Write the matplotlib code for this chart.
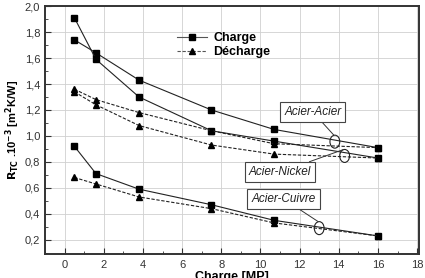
import matplotlib
matplotlib.use("Agg")
import matplotlib.pyplot as plt
from matplotlib.patches import Ellipse
from matplotlib.ticker import MultipleLocator, FuncFormatter
from matplotlib.lines import Line2D

plt.rcParams['font.family'] = ['Liberation Sans', 'DejaVu Sans']

charge_x = [0.5, 1.6, 3.8, 7.5, 10.7, 16]
# Charge (solid, squares)
aa_charge = [1.74, 1.64, 1.43, 1.20, 1.05, 0.91]
an_charge = [1.91, 1.59, 1.30, 1.04, 0.96, 0.83]
ac_charge = [0.92, 0.71, 0.59, 0.47, 0.35, 0.23]
# Décharge (dashed, triangles)
aa_decharge = [1.36, 1.28, 1.18, 1.04, 0.94, 0.91]
an_decharge = [1.34, 1.24, 1.08, 0.93, 0.86, 0.83]
ac_decharge = [0.68, 0.63, 0.53, 0.44, 0.33, 0.23]

labels = ["Acier-Acier", "Acier-Nickel", "Acier-Cuivre"]

fig = plt.figure(figsize=(4.25, 2.78), dpi=100)
ax = fig.add_axes([0.106, 0.086, 0.88, 0.892])

lc = '#222222'
for y in (aa_charge, an_charge, ac_charge):
    ax.plot(charge_x, y, '-', color=lc, lw=0.8, marker='s', ms=4.5, mfc='black', mec='black')
for y in (aa_decharge, an_decharge, ac_decharge):
    ax.plot(charge_x, y, '--', color=lc, lw=0.8, dashes=(3, 1.5), marker='^', ms=5, mfc='black', mec='black')

# legend
h1 = Line2D([], [], ls='-', color='#555555', lw=0.8, marker='s', ms=5, mfc='black', mec='black')
h2 = Line2D([], [], ls='--', color='#555555', lw=0.8, dashes=(3, 1.5), marker='^', ms=5, mfc='black', mec='black')
leg = ax.legend([h1, h2], ['Charge', 'Décharge'], loc='upper left', bbox_to_anchor=(0.33, 0.93),
                frameon=False, handlelength=2.4, prop={'weight': 'bold', 'size': 9},
                labelspacing=0.15, handletextpad=0.5, borderpad=0.2)

ax.set_xlim(-1, 18.1)
ax.set_ylim(0.09, 2.0)
ax.xaxis.set_major_locator(MultipleLocator(2))
ax.xaxis.set_minor_locator(MultipleLocator(1))
ax.yaxis.set_major_locator(MultipleLocator(0.2))
ax.yaxis.set_minor_locator(MultipleLocator(0.1))
ax.yaxis.set_major_formatter(FuncFormatter(lambda v, p: f"{v:.1f}".replace('.', ',')))
ax.tick_params(which='both', direction='in', color='#333333', labelcolor='#333333', labelsize=8)
ax.tick_params(which='major', length=4)
ax.tick_params(which='minor', length=2)
ax.tick_params(axis='x', pad=4)
ax.grid(True, which='major', color='#d0d0d0', lw=0.6)
ax.set_axisbelow(True)
for s in ax.spines.values():
    s.set_color('#333333')
    s.set_linewidth(1.4)

ax.set_xlabel('Charge [MP]', fontweight='bold', fontsize=9, labelpad=1)
ax.set_ylabel(r'$\mathbf{R_{TC}}$ .10$^{\mathbf{-3}}$ [m$^{\mathbf{2}}$K/W]', fontweight='bold', fontsize=8, labelpad=2)

# annotation boxes and ellipses
box_pos = [(12.67, 1.185), (11.0, 0.72), (11.18, 0.515)]
ell_pos = [(13.8, 0.956), (14.3, 0.846), (13.0, 0.29)]
for lab, bp, ep in zip(labels, box_pos, ell_pos):
    ax.annotate(lab, xy=(ep[0] - 0.05, ep[1] + 0.05), xytext=bp, ha='center', va='center',
                fontsize=8.5, style='italic', color='#222222',
                bbox=dict(boxstyle='square,pad=0.35', fc='white', ec='#444444', lw=0.8),
                arrowprops=dict(arrowstyle='-', color='#333333', lw=0.7, shrinkA=0, shrinkB=0))
    ax.add_patch(Ellipse(ep, 0.5, 0.1, fill=False, ec='#222222', lw=0.8))

fig.savefig('out.png', dpi=100)
